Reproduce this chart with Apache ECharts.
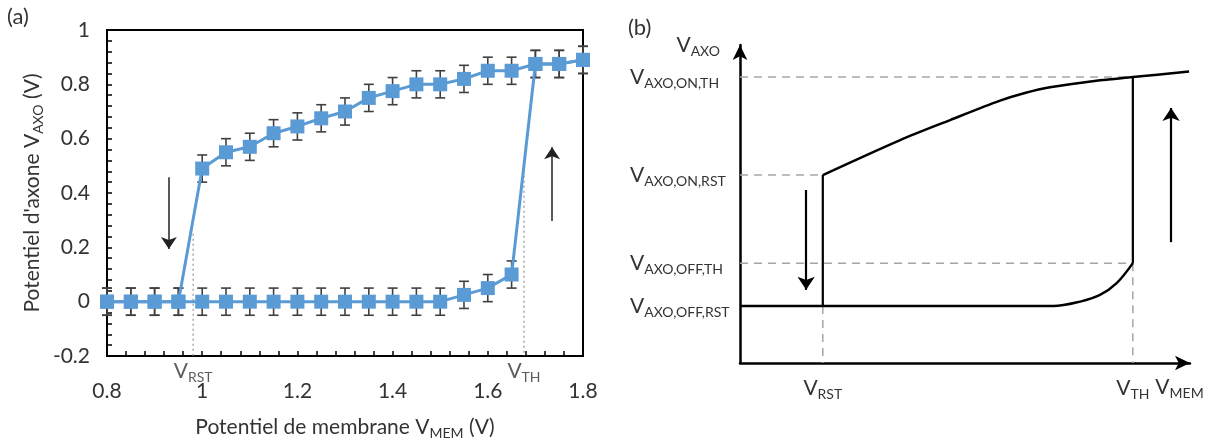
<!DOCTYPE html>
<html>
<head>
<meta charset="utf-8">
<script src="https://cdn.jsdelivr.net/npm/echarts@6/dist/echarts.min.js"></script>
<style>
html,body{margin:0;padding:0;background:#fff;}
#chart{width:1208px;height:445px;}
</style>
</head>
<body>
<div id="chart"></div>
<script>
// ---------- Panel (a) data ----------
const vMem = [0.8, 0.85, 0.9, 0.95, 1.0, 1.05, 1.1, 1.15, 1.2, 1.25, 1.3, 1.35, 1.4, 1.45, 1.5, 1.55, 1.6, 1.65, 1.7, 1.75, 1.8];
const vAxoUp = [0, 0, 0, 0, 0, 0, 0, 0, 0, 0, 0, 0, 0, 0, 0, 0.025, 0.05, 0.1, 0.875, 0.875, 0.89];
const vAxoDown = [0, 0, 0, 0, 0.49, 0.55, 0.57, 0.62, 0.645, 0.675, 0.70, 0.75, 0.775, 0.80, 0.80, 0.82, 0.85, 0.85, 0.875, 0.875, 0.89];
const errUp = [0.05, 0.05, 0.05, 0.05, 0.05, 0.05, 0.05, 0.05, 0.05, 0.05, 0.05, 0.05, 0.05, 0.05, 0.05, 0.05, 0.05, 0.05, 0.05, 0.05, 0.05];
const errDown = [0.05, 0.05, 0.05, 0.05, 0.05, 0.05, 0.05, 0.05, 0.05, 0.05, 0.05, 0.05, 0.05, 0.05, 0.05, 0.05, 0.05, 0.05, 0.05, 0.05, 0.05];
const refNamesA = ['RST', 'TH'];
const refXA = [0.981, 1.676];
const refTopA = [0.25, 0.5];
const arrowXA = [0.93, 1.735];
const arrowFromA = [0.458, 0.297];
const arrowToA = [0.194, 0.568];

// ---------- Panel (b) schematic data ----------
const levelNamesB = ['AXO,OFF,RST', 'AXO,OFF,TH', 'AXO,ON,RST', 'AXO,ON,TH'];
const levelValuesB = [17.9, 31.4, 59.1, 89.9];
const vRstB = 18.4;
const vThB = 87.3;
const offBranchX = [0, 69.6, 75.6, 80, 83.7, 87.3];
const offBranchY = [17.9, 17.9, 19.3, 21.4, 25.1, 31.4];
const onBranchX = [18.4, 35.6, 46.7, 57.8, 63.3, 68.9, 80, 87.3, 99.8];
const onBranchY = [59.1, 70.1, 76.4, 82.5, 84.9, 86.7, 88.9, 89.9, 91.7];
const arrowXB = [14.7, 95.8];
const arrowFromB = [54.4, 38];
const arrowToB = [23, 80.2];

const FONT = 'Lato, "Open Sans", sans-serif';
const TXT = '#333333';
const BLUE = '#5B9BD5';
const richSub = {
  base: {fontSize: 21, fontFamily: FONT, color: TXT},
  sub: {fontSize: 14, fontFamily: FONT, color: TXT, padding: [12, 0, 0, 0]}
};
function vSub(s) { return '{base|V}{sub|' + s + '}'; }

const chart = echarts.init(document.getElementById('chart'), null, {renderer: 'canvas'});

function errData(ys, es) { return vMem.map((x, i) => [x, ys[i], es[i]]); }
const errorBarItem = function (params, api) {
  const x = api.value(0), y = api.value(1), e = api.value(2);
  const hi = api.coord([x, y + e]);
  const lo = api.coord([x, y - e]);
  const w = 5;
  const st = {stroke: '#404040', lineWidth: 1.6};
  return {type: 'group', children: [
    {type: 'line', shape: {x1: hi[0], y1: hi[1], x2: lo[0], y2: lo[1]}, style: st},
    {type: 'line', shape: {x1: hi[0] - w, y1: hi[1], x2: hi[0] + w, y2: hi[1]}, style: st},
    {type: 'line', shape: {x1: lo[0] - w, y1: lo[1], x2: lo[0] + w, y2: lo[1]}, style: st}
  ]};
};

const option = {
  animation: false,
  backgroundColor: '#fff',
  textStyle: {fontFamily: FONT},
  graphic: [
    {type: 'text', left: 7, top: 6, style: {text: '(a)', font: '22px ' + FONT, fill: TXT}},
    {type: 'text', left: 628, top: 17, style: {text: '(b)', font: '22px ' + FONT, fill: TXT}}
  ],
  grid: [
    {left: 107, top: 30, width: 476, height: 328, show: true, borderColor: '#000', borderWidth: 2, backgroundColor: 'transparent'},
    {left: 740, top: 45, width: 450, height: 318}
  ],
  xAxis: [
    {
      gridIndex: 0, type: 'value', min: 0.8, max: 1.8, interval: 0.2,
      name: '{base|Potentiel de membrane V}{sub|MEM}{base| (V)}',
      nameLocation: 'middle', nameGap: 58,
      nameTextStyle: {rich: richSub},
      axisLine: {onZero: false, lineStyle: {color: '#000', width: 2}},
      axisTick: {inside: true, length: 5, lineStyle: {color: '#000', width: 1.5}},
      minorTick: {show: true, splitNumber: 5, length: 5, lineStyle: {color: '#000', width: 1.5}},
      splitLine: {show: false},
      axisLabel: {margin: 25, fontSize: 21, color: TXT, fontFamily: FONT}
    },
    {
      gridIndex: 1, type: 'value', min: 0, max: 100,
      name: vSub('MEM'), nameLocation: 'end', nameGap: 10,
      nameTextStyle: {rich: richSub, align: 'right', verticalAlign: 'top', padding: [11, 0, 0, 0]},
      axisLine: {onZero: false, symbol: ['none', 'arrow'], symbolSize: [11, 15], lineStyle: {color: '#000', width: 2.5}},
      axisTick: {show: false},
      splitLine: {show: false},
      axisLabel: {
        customValues: [vRstB, vThB], margin: 12,
        formatter: function (v) { return v === vRstB ? vSub('RST') : vSub('TH'); },
        rich: richSub
      }
    }
  ],
  yAxis: [
    {
      gridIndex: 0, type: 'value', min: -0.2, max: 1, interval: 0.2,
      name: "{base|Potentiel d'axone V}{sub|AXO}{base| (V)}",
      nameLocation: 'middle', nameGap: 62, nameRotate: 90,
      nameTextStyle: {rich: richSub},
      axisLine: {onZero: false, lineStyle: {color: '#000', width: 2}},
      axisTick: {inside: true, length: 5, lineStyle: {color: '#000', width: 1.5}},
      minorTick: {show: true, splitNumber: 5, length: 5, lineStyle: {color: '#000', width: 1.5}},
      splitLine: {show: false},
      axisLabel: {margin: 17, fontSize: 21, color: TXT, fontFamily: FONT,
        formatter: function (v) { return String(Math.round(v * 10) / 10); }}
    },
    {
      gridIndex: 1, type: 'value', min: 0, max: 100,
      name: vSub('AXO'), nameLocation: 'end', nameGap: 0,
      nameTextStyle: {rich: richSub, align: 'right', verticalAlign: 'middle', padding: [0, 20, 0, 0]},
      axisLine: {onZero: false, symbol: ['none', 'arrow'], symbolSize: [11, 15], lineStyle: {color: '#000', width: 2.5}},
      axisTick: {show: false},
      splitLine: {show: false},
      axisLabel: {
        customValues: levelValuesB, margin: 110, align: 'left',
        formatter: function (v) { return vSub(levelNamesB[levelValuesB.indexOf(v)]); },
        rich: richSub
      }
    }
  ],
  series: [
    // ---- panel (a) ----
    {
      type: 'line', xAxisIndex: 0, yAxisIndex: 0, silent: true, z: 1,
      symbol: 'none', lineStyle: {color: '#9a9a9a', width: 1.3, type: [2, 3]},
      data: [[refXA[0], refTopA[0]], [refXA[0], -0.2], null, [refXA[1], refTopA[1]], [refXA[1], -0.2]],
      connectNulls: false
    },
    {
      type: 'scatter', xAxisIndex: 0, yAxisIndex: 0, silent: true, symbolSize: 0,
      data: refXA.map(x => [x, -0.2]),
      label: {show: true, position: 'bottom', distance: 2, rich: richSub,
        formatter: function (p) { return vSub(refNamesA[p.dataIndex]); }}
    },
    {
      type: 'custom', xAxisIndex: 0, yAxisIndex: 0, z: 2, silent: true,
      renderItem: errorBarItem, data: errData(vAxoUp, errUp)
    },
    {
      type: 'custom', xAxisIndex: 0, yAxisIndex: 0, z: 2, silent: true,
      renderItem: errorBarItem, data: errData(vAxoDown, errDown)
    },
    {
      type: 'line', xAxisIndex: 0, yAxisIndex: 0, z: 3,
      data: vMem.map((x, i) => [x, vAxoDown[i]]),
      symbol: 'rect', symbolSize: 14, showAllSymbol: true,
      itemStyle: {color: BLUE}, lineStyle: {color: BLUE, width: 3}
    },
    {
      type: 'line', xAxisIndex: 0, yAxisIndex: 0, z: 3,
      data: vMem.map((x, i) => [x, vAxoUp[i]]),
      symbol: 'rect', symbolSize: 14, showAllSymbol: true,
      itemStyle: {color: BLUE}, lineStyle: {color: BLUE, width: 3}
    },
    {
      type: 'lines', coordinateSystem: 'cartesian2d', xAxisIndex: 0, yAxisIndex: 0, silent: true,
      symbol: ['none', 'arrow'], symbolSize: 12,
      lineStyle: {color: '#222', width: 1.5, opacity: 1},
      data: arrowXA.map((x, i) => ({coords: [[x, arrowFromA[i]], [x, arrowToA[i]]]}))
    },
    // ---- panel (b) ----
    {
      type: 'line', xAxisIndex: 1, yAxisIndex: 1, silent: true, symbol: 'none', z: 1,
      lineStyle: {color: '#a6a6a6', width: 1.5, type: [8, 6]},
      connectNulls: false,
      data: [
        [0, levelValuesB[3]], [vThB, levelValuesB[3]], null,
        [0, levelValuesB[2]], [vRstB, levelValuesB[2]], null,
        [0, levelValuesB[1]], [vThB, levelValuesB[1]], null,
        [vRstB, levelValuesB[0]], [vRstB, 0], null,
        [vThB, levelValuesB[1]], [vThB, 0]
      ]
    },
    {
      type: 'line', xAxisIndex: 1, yAxisIndex: 1, silent: true, symbol: 'none', z: 3,
      smooth: 0.35,
      lineStyle: {color: '#000', width: 2.5},
      data: offBranchX.map((x, i) => [x, offBranchY[i]])
    },
    {
      type: 'line', xAxisIndex: 1, yAxisIndex: 1, silent: true, symbol: 'none', z: 3,
      smooth: 0.3,
      lineStyle: {color: '#000', width: 2.5},
      data: onBranchX.map((x, i) => [x, onBranchY[i]])
    },
    {
      type: 'line', xAxisIndex: 1, yAxisIndex: 1, silent: true, symbol: 'none', z: 3,
      lineStyle: {color: '#000', width: 2.2},
      connectNulls: false,
      data: [[vRstB, levelValuesB[2]], [vRstB, levelValuesB[0]], null, [vThB, levelValuesB[1]], [vThB, levelValuesB[3]]]
    },
    {
      type: 'lines', coordinateSystem: 'cartesian2d', xAxisIndex: 1, yAxisIndex: 1, silent: true,
      symbol: ['none', 'arrow'], symbolSize: 13,
      lineStyle: {color: '#000', width: 2.2, opacity: 1},
      data: arrowXB.map((x, i) => ({coords: [[x, arrowFromB[i]], [x, arrowToB[i]]]}))
    }
  ]
};
chart.setOption(option);
</script>
</body>
</html>
